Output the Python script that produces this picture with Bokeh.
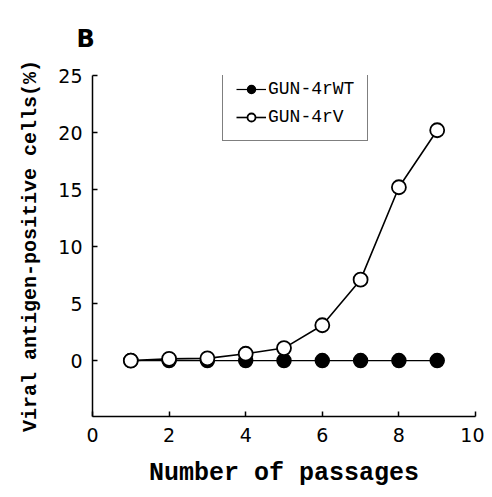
from bokeh.plotting import figure
from bokeh.models import Range1d, Legend, LegendItem, FixedTicker, Title
from bokeh.embed import file_html
from bokeh.resources import INLINE

passages = [1, 2, 3, 4, 5, 6, 7, 8, 9]
wt_values = [0, 0, 0, 0, 0, 0, 0, 0, 0]
rv_values = [0, 0.15, 0.2, 0.6, 1.1, 3.1, 7.1, 15.2, 20.2]
x_ticks = [0, 2, 4, 6, 8, 10]
y_ticks = [0, 5, 10, 15, 20, 25]

p = figure(width=484, height=490, output_backend="svg", toolbar_location=None,
           x_range=Range1d(0, 10), y_range=Range1d(-4.9, 25),
           min_border_left=92, min_border_right=9, min_border_top=75, min_border_bottom=67)
p.outline_line_color = None
p.grid.visible = False
p.background_fill_color = "white"

wt_line = p.line(passages, wt_values, line_color="black", line_width=1.2)
wt_pts = p.scatter(passages, wt_values, marker="circle", size=14, fill_color="black",
                   line_color="black", line_width=1.5)
rv_line = p.line(passages, rv_values, line_color="black", line_width=1.6)
rv_pts = p.scatter(passages, rv_values, marker="circle", size=14, fill_color="white",
                   line_color="black", line_width=1.8)

for ax in (p.xaxis[0], p.yaxis[0]):
    ax.axis_line_width = 1.5
    ax.axis_line_color = "black"
    ax.major_tick_in = 5
    ax.major_tick_out = 0
    ax.minor_tick_line_color = None
    ax.major_tick_line_width = 1.5
    ax.major_label_text_font = "DejaVu Sans"
    ax.major_label_text_font_size = "19px"
    ax.major_label_text_color = "black"
    ax.axis_label_text_font = "Liberation Mono"
    ax.axis_label_text_font_style = "bold"
    ax.axis_label_text_color = "black"

p.xaxis.ticker = FixedTicker(ticks=x_ticks)
p.yaxis.ticker = FixedTicker(ticks=y_ticks)
p.xaxis.major_label_standoff = 11
p.yaxis.major_label_standoff = 10
p.xaxis.axis_label = "Number of passages"
p.xaxis.axis_label_text_font_size = "25px"
p.xaxis.axis_label_standoff = 14
p.yaxis.axis_label = "Viral antigen-positive cells(%)"
p.yaxis.axis_label_text_font_size = "20px"
p.yaxis.axis_label_standoff = 13

legend = Legend(items=[LegendItem(label="GUN-4rWT", renderers=[wt_line, wt_pts]),
                       LegendItem(label="GUN-4rV", renderers=[rv_line, rv_pts])],
                location=(130, 275))
legend.label_text_font = "Liberation Mono"
legend.label_text_font_size = "18px"
legend.label_text_color = "black"
legend.border_line_color = "black"
legend.border_line_width = 1.5
legend.glyph_width = 30
legend.label_standoff = 2
legend.spacing = 8
legend.padding = 13
legend.margin = 0
p.add_layout(legend)

p.add_layout(Title(text="B", text_font="DejaVu Sans", text_font_style="bold",
                   text_font_size="24px", text_color="black", align="left",
                   offset=-16, standoff=45), "above")

open("out.html", "w").write(file_html(p, INLINE))
